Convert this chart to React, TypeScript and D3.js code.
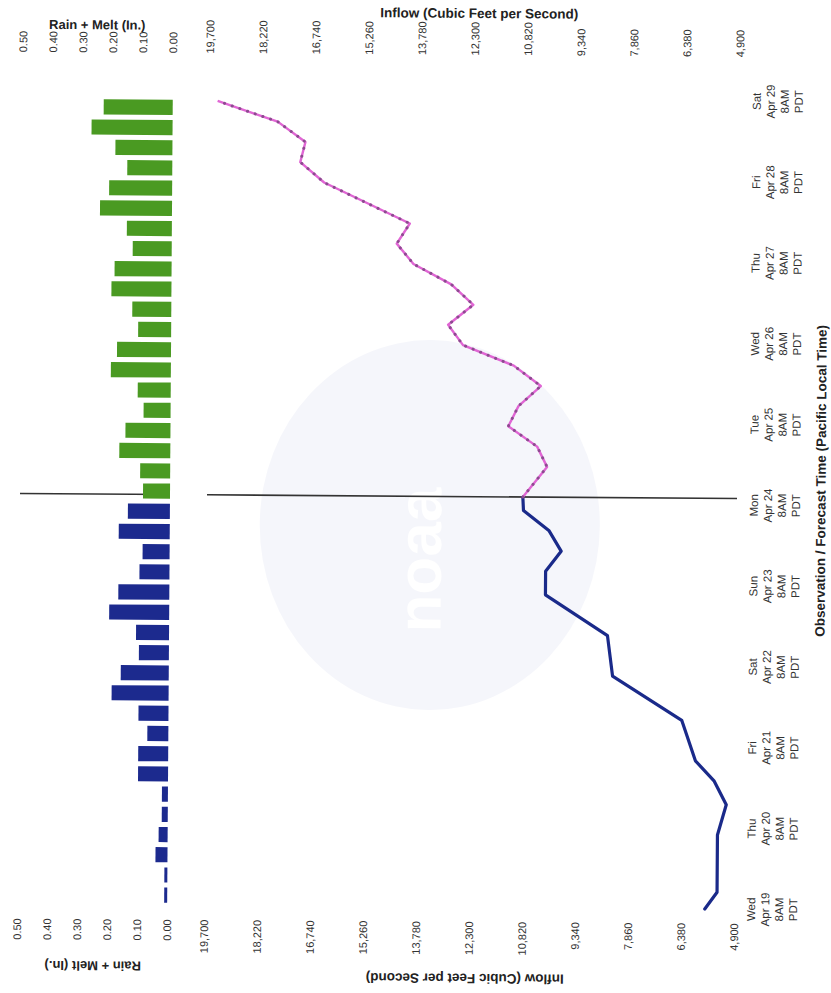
import React from "react";
import * as d3 from "d3";

const WIDTH = 831;
const HEIGHT = 993;
const FONT = "'Liberation Sans', Arial, Helvetica, sans-serif";

const parse = d3.timeParse("%Y-%m-%d %H:%M");

// Time axis (8AM PDT daily)
const timeStart = "2023-04-19 08:00";
const timeEnd = "2023-04-29 08:00";
const tickTimes = [
  "2023-04-19 08:00", "2023-04-20 08:00", "2023-04-21 08:00", "2023-04-22 08:00",
  "2023-04-23 08:00", "2023-04-24 08:00", "2023-04-25 08:00", "2023-04-26 08:00",
  "2023-04-27 08:00", "2023-04-28 08:00", "2023-04-29 08:00",
];
const forecastStart = "2023-04-24 10:00";

// Rain + Melt, 6-hour totals (inches)
const rainObsStart = "2023-04-19 11:00";
const rainObs = [0.01, 0.01, 0.04, 0.03, 0.02, 0.02, 0.1, 0.1, 0.07, 0.1, 0.19, 0.16, 0.1, 0.11, 0.2, 0.17, 0.1, 0.09, 0.17, 0.14];
const rainFcstStart = "2023-04-24 11:00";
const rainFcst = [0.09, 0.1, 0.17, 0.15, 0.09, 0.11, 0.2, 0.18, 0.11, 0.13, 0.2, 0.19, 0.13, 0.15, 0.24, 0.21, 0.15, 0.19, 0.27, 0.23];

// Inflow (cfs)
const obsTimes = [
  "2023-04-19 08:00", "2023-04-19 13:00", "2023-04-20 06:00", "2023-04-20 15:00", "2023-04-20 22:00",
  "2023-04-21 04:00", "2023-04-21 16:00", "2023-04-22 05:00", "2023-04-22 17:00", "2023-04-23 05:00",
  "2023-04-23 12:00", "2023-04-23 18:00", "2023-04-24 00:00", "2023-04-24 06:00", "2023-04-24 10:00",
];
const obsValues = [5720, 5380, 5380, 5140, 5480, 6010, 6400, 8340, 8490, 10230, 10230, 9800, 10140, 10860, 10880];

const fcstTimes = [
  "2023-04-24 10:00", "2023-04-24 19:00", "2023-04-25 01:00", "2023-04-25 07:00", "2023-04-25 13:00",
  "2023-04-25 19:00", "2023-04-26 01:00", "2023-04-26 07:00", "2023-04-26 13:00", "2023-04-26 19:00",
  "2023-04-27 01:00", "2023-04-27 07:00", "2023-04-27 13:00", "2023-04-27 19:00", "2023-04-28 07:00",
  "2023-04-28 13:00", "2023-04-28 19:00", "2023-04-29 01:00", "2023-04-29 07:00",
];
const fcstValues = [10880, 10210, 10490, 11300, 11020, 10400, 11160, 12580, 13000, 12300, 12920, 13980, 14450, 14090, 16490, 17160, 17020, 17800, 19480];

const inflowTicks = [19700, 18220, 16740, 15260, 13780, 12300, 10820, 9340, 7860, 6380, 4900];
const rainTicks = [0.5, 0.4, 0.3, 0.2, 0.1, 0.0];

const rainTitle = "Rain + Melt (In.)";
const inflowTitle = "Inflow (Cubic Feet per Second)";
const timeTitle = "Observation / Forecast Time (Pacific Local Time)";

export default function App() {
  const yTime = d3.scaleTime().domain([parse(timeStart)!, parse(timeEnd)!]).range([907, 99]);
  const xInflow = d3.scaleLinear().domain([4900, 19700]).range([737, 207]);
  const xRain = d3.scaleLinear().domain([0, 0.5]).range([170, 20]);

  const barH = Math.abs(yTime(d3.timeMinute.offset(parse(timeStart)!, 270)) - yTime(parse(timeStart)!));

  const obsBars = rainObs.map((v, i) => ({ t: d3.timeHour.offset(parse(rainObsStart)!, 6 * i), v }));
  const fcstBars = rainFcst.map((v, i) => ({ t: d3.timeHour.offset(parse(rainFcstStart)!, 6 * i), v }));

  const line = d3
    .line<[Date, number]>()
    .x((d) => xInflow(d[1]))
    .y((d) => yTime(d[0]));
  const obsPath = line(obsTimes.map((t, i) => [parse(t)!, obsValues[i]]))!;
  const fcstPath = line(fcstTimes.map((t, i) => [parse(t)!, fcstValues[i]]))!;

  const fmtInflow = d3.format(",");
  const fmtRain = d3.format(".2f");
  const fmtDay = d3.timeFormat("%a");
  const fmtDate = d3.timeFormat("%b %-d");
  const fmtHour = d3.timeFormat("%-I%p");

  const yNow = yTime(parse(forecastStart)!);
  const labelCols = [754, 768, 782, 796];

  return (
    <svg
      width={WIDTH}
      height={HEIGHT}
      style={{ position: "absolute", left: 0, top: 0, background: "#fff" }}
      fontFamily={FONT}
    >
      <rect width={WIDTH} height={HEIGHT} fill="#ffffff" />
      <g transform="rotate(0.4 415 496)">
        {/* faint watermark */}
        <g opacity={0.5}>
          <ellipse cx={430} cy={525} rx={170} ry={185} fill="#eceef8" />
          <text
            transform="translate(420 560) rotate(-90)"
            textAnchor="middle"
            dominantBaseline="central"
            fontSize={62}
            fontWeight="bold"
            fill="#ffffff"
          >
            noaa
          </text>
        </g>

        {/* forecast start line */}
        <line x1={xRain(0.5)} x2={xRain(0)} y1={yNow} y2={yNow} stroke="#333" strokeWidth={1.6} />
        <line x1={xInflow(19700)} x2={xInflow(4900)} y1={yNow} y2={yNow} stroke="#333" strokeWidth={1.6} />

        {/* rain bars */}
        {obsBars.map((d, i) => (
          <rect
            key={"o" + i}
            x={xRain(d.v)}
            width={xRain(0) - xRain(d.v)}
            y={yTime(d.t) - barH / 2}
            height={barH}
            fill="#1c2a8e"
          />
        ))}
        {fcstBars.map((d, i) => (
          <rect
            key={"f" + i}
            x={xRain(d.v)}
            width={xRain(0) - xRain(d.v)}
            y={yTime(d.t) - barH / 2}
            height={barH}
            fill="#4a9a22"
          />
        ))}

        {/* inflow lines */}
        <path d={obsPath} fill="none" stroke="#1a2a8a" strokeWidth={3.2} strokeLinejoin="round" strokeLinecap="round" />
        <path d={fcstPath} fill="none" stroke="#e066d4" strokeWidth={2.4} strokeLinejoin="round" />
        <path
          d={fcstPath}
          fill="none"
          stroke="#8d4b90"
          strokeWidth={3}
          strokeLinecap="round"
          strokeDasharray="0.1 8"
        />

        {/* top axis titles */}
        <text x={94} y={27} textAnchor="middle" dominantBaseline="central" fontSize={13} fontWeight="bold" fill="#222">
          {rainTitle}
        </text>
        <text x={476} y={13} textAnchor="middle" dominantBaseline="central" fontSize={13.5} fontWeight="bold" fill="#222">
          {inflowTitle}
        </text>

        {/* bottom axis titles (upside down) */}
        <text
          transform="translate(96 968) rotate(180)"
          textAnchor="middle"
          dominantBaseline="central"
          fontSize={13}
          fontWeight="bold"
          fill="#222"
        >
          {rainTitle}
        </text>
        <text
          transform="translate(468 978) rotate(180)"
          textAnchor="middle"
          dominantBaseline="central"
          fontSize={13.5}
          fontWeight="bold"
          fill="#222"
        >
          {inflowTitle}
        </text>

        {/* tick labels top */}
        {rainTicks.map((v) => (
          <text
            key={"rt" + v}
            transform={`translate(${xRain(v)} 55) rotate(-90)`}
            textAnchor="start"
            dominantBaseline="central"
            fontSize={11}
            fill="#333"
          >
            {fmtRain(v)}
          </text>
        ))}
        {inflowTicks.map((v) => (
          <text
            key={"it" + v}
            transform={`translate(${xInflow(v)} 55) rotate(-90)`}
            textAnchor="start"
            dominantBaseline="central"
            fontSize={11}
            fill="#333"
          >
            {fmtInflow(v)}
          </text>
        ))}

        {/* tick labels bottom */}
        {rainTicks.map((v) => (
          <text
            key={"rb" + v}
            transform={`translate(${xRain(v)} 921) rotate(-90)`}
            textAnchor="end"
            dominantBaseline="central"
            fontSize={11}
            fill="#333"
          >
            {fmtRain(v)}
          </text>
        ))}
        {inflowTicks.map((v) => (
          <text
            key={"ib" + v}
            transform={`translate(${xInflow(v)} 921) rotate(-90)`}
            textAnchor="end"
            dominantBaseline="central"
            fontSize={11}
            fill="#333"
          >
            {fmtInflow(v)}
          </text>
        ))}

        {/* time labels */}
        {tickTimes.map((s) => {
          const t = parse(s)!;
          const lines = [fmtDay(t), fmtDate(t), fmtHour(t), "PDT"];
          return (
            <g key={s}>
              {lines.map((txt, j) => (
                <text
                  key={j}
                  transform={`translate(${labelCols[j]} ${yTime(t)}) rotate(-90)`}
                  textAnchor="middle"
                  dominantBaseline="central"
                  fontSize={11.5}
                  fill="#333"
                >
                  {txt}
                </text>
              ))}
            </g>
          );
        })}
        <text
          transform="translate(821 478) rotate(-90)"
          textAnchor="middle"
          dominantBaseline="central"
          fontSize={13.5}
          fontWeight="bold"
          fill="#222"
        >
          {timeTitle}
        </text>
      </g>
    </svg>
  );
}
